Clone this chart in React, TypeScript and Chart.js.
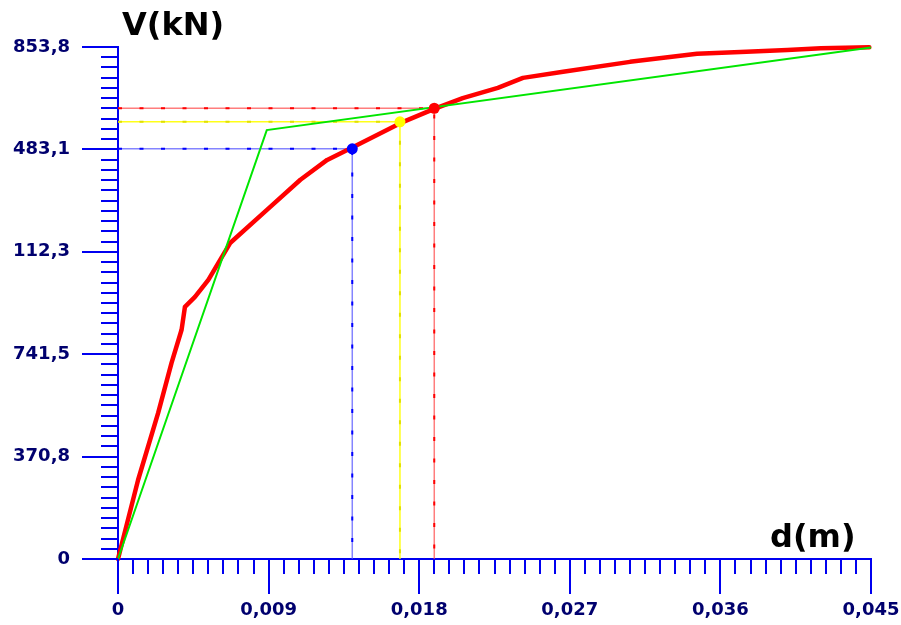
import React, { useEffect, useRef } from "react";
import { Chart, registerables } from "chart.js";

Chart.register(...registerables);

// ---- data ----
const capacityX = [0, 0.0012, 0.0024, 0.0032, 0.0038, 0.004, 0.0046, 0.0054, 0.0067, 0.0089, 0.0109, 0.0125, 0.014, 0.0169, 0.0189, 0.0206, 0.0227, 0.0242, 0.0266, 0.0306, 0.0346, 0.0372, 0.04, 0.042, 0.0449];
const capacityY = [0, 286, 529, 710, 830, 913, 949, 1011, 1144, 1264, 1373, 1445, 1490, 1579, 1630, 1669, 1706, 1742, 1764, 1800, 1829, 1836, 1843, 1849, 1853];

const bilinearX = [0, 0.00889, 0.045];
const bilinearY = [0, 1553, 1852];

const perfNames = ["blue", "yellow", "red"];
const perfX = [0.014, 0.01685, 0.0189];
const perfY = [1485, 1583, 1632];

const xMajorValues = [0, 0.009, 0.018, 0.027, 0.036, 0.045];
const xMajorLabels = ["0", "0,009", "0,018", "0,027", "0,036", "0,045"];
const yMajorValues = [0, 370.76, 741.52, 1112.28, 1483.04, 1853.8];
const yMajorLabels = ["0", "370,8", "741,5", "112,3", "483,1", "853,8"];
const minorPerMajor = 10;

const yTitle = "V(kN)";
const xTitle = "d(m)";

// ---- styles ----
const AXIS_BLUE = "#0000f0";
const LABEL_NAVY = "#00006e";
const perfLight = ["rgba(80,80,255,0.7)", "rgba(255,255,0,0.9)", "rgba(255,70,70,0.7)"];
const perfDark = ["#0000ff", "#e0e000", "#ff0000"];
const perfPoint = ["#0000ff", "#ffff00", "#ff0000"];

function buildTicks(majors: number[]) {
  const t: { value: number }[] = [];
  for (let i = 0; i < majors.length - 1; i++) {
    for (let j = 0; j < minorPerMajor; j++) {
      t.push({ value: majors[i] + ((majors[i + 1] - majors[i]) * j) / minorPerMajor });
    }
  }
  t.push({ value: majors[majors.length - 1] });
  return t;
}

const decorPlugin = {
  id: "decor",
  afterDraw(chart: any) {
    const ctx = chart.ctx;
    const xs = chart.scales.x;
    const ys = chart.scales.y;
    const area = chart.chartArea;
    ctx.save();
    ctx.strokeStyle = AXIS_BLUE;
    ctx.lineWidth = 2;
    xMajorValues.forEach((v) => {
      const px = Math.round(xs.getPixelForValue(v));
      ctx.beginPath();
      ctx.moveTo(px, area.bottom);
      ctx.lineTo(px, area.bottom + 35);
      ctx.stroke();
    });
    yMajorValues.forEach((v) => {
      const py = Math.round(ys.getPixelForValue(v));
      ctx.beginPath();
      ctx.moveTo(area.left, py);
      ctx.lineTo(area.left - 36, py);
      ctx.stroke();
    });
    ctx.fillStyle = "#000";
    ctx.font = 'bold 32px "DejaVu Sans"';
    ctx.textAlign = "left";
    ctx.textBaseline = "alphabetic";
    ctx.fillText(yTitle, 122, 35);
    ctx.fillText(xTitle, 770, 547);
    ctx.restore();
  },
};

export default function App() {
  const ref = useRef<HTMLCanvasElement | null>(null);

  useEffect(() => {
    if (!ref.current) return;
    const pts = (xs: number[], ys: number[]) => xs.map((x, i) => ({ x, y: ys[i] }));

    const datasets: any[] = [];
    perfNames.forEach((n, i) => {
      datasets.push({
        label: n + " point",
        data: [{ x: perfX[i], y: perfY[i] }],
        showLine: false,
        pointRadius: 5.5,
        pointBackgroundColor: perfPoint[i],
        pointBorderColor: perfPoint[i],
        pointBorderWidth: 0,
        clip: false,
      });
    });
    datasets.push({
      label: "bilinear",
      data: pts(bilinearX, bilinearY),
      borderColor: "#00e600",
      borderWidth: 2,
      pointRadius: 0,
      showLine: true,
      tension: 0,
      clip: false,
    });
    datasets.push({
      label: "capacity",
      data: pts(capacityX, capacityY),
      borderColor: "#ff0000",
      borderWidth: 4.5,
      pointRadius: 0,
      showLine: true,
      tension: 0,
      borderJoinStyle: "round",
      borderCapStyle: "round",
      clip: false,
    });
    perfNames.forEach((n, i) => {
      const guide = [
        { x: 0, y: perfY[i] },
        { x: perfX[i], y: perfY[i] },
        { x: perfX[i], y: 0 },
      ];
      datasets.push({
        label: n + " guide dash",
        data: guide,
        borderColor: perfDark[i],
        borderWidth: 2,
        borderDash: [4, 17.5],
        pointRadius: 0,
        showLine: true,
        tension: 0,
      });
      datasets.push({
        label: n + " guide",
        data: guide,
        borderColor: perfLight[i],
        borderWidth: 1.5,
        pointRadius: 0,
        showLine: true,
        tension: 0,
      });
    });

    const tickFont = { family: "DejaVu Sans", size: 18, weight: "bold" as const };

    const chart = new Chart(ref.current, {
      type: "scatter",
      data: { datasets },
      plugins: [decorPlugin],
      options: {
        animation: false,
        responsive: false,
        devicePixelRatio: 1,
        layout: { padding: { top: 47, right: 30, left: 0, bottom: 0 } },
        plugins: { legend: { display: false }, tooltip: { enabled: false } },
        events: [],
        scales: {
          x: {
            type: "linear",
            min: 0,
            max: 0.045,
            afterBuildTicks: (s: any) => {
              s.ticks = buildTicks(xMajorValues);
            },
            afterFit: (s: any) => {
              s.height = 66;
              s.paddingLeft = 0;
              s.paddingRight = 0;
            },
            border: { display: true, color: AXIS_BLUE, width: 2 },
            grid: {
              drawOnChartArea: false,
              drawTicks: true,
              tickLength: 15,
              color: AXIS_BLUE,
              lineWidth: 2,
            },
            ticks: {
              autoSkip: false,
              maxRotation: 0,
              minRotation: 0,
              padding: 26,
              color: LABEL_NAVY,
              font: tickFont,
              callback: (_v: any, i: number) => (i % minorPerMajor === 0 ? xMajorLabels[i / minorPerMajor] : ""),
            },
          },
          y: {
            type: "linear",
            min: 0,
            max: 1853.8,
            afterBuildTicks: (s: any) => {
              s.ticks = buildTicks(yMajorValues);
            },
            afterFit: (s: any) => {
              s.width = 118;
              s.paddingTop = 0;
              s.paddingBottom = 0;
            },
            border: { display: true, color: AXIS_BLUE, width: 2 },
            grid: {
              drawOnChartArea: false,
              drawTicks: true,
              tickLength: 17,
              color: AXIS_BLUE,
              lineWidth: 2,
            },
            ticks: {
              autoSkip: false,
              padding: 31,
              color: LABEL_NAVY,
              font: tickFont,
              callback: (_v: any, i: number) => (i % minorPerMajor === 0 ? yMajorLabels[i / minorPerMajor] : ""),
            },
          },
        },
      },
    });
    return () => chart.destroy();
  }, []);

  return (
    <div style={{ position: "fixed", left: 0, top: 0, width: 901, height: 625, background: "#fff" }}>
      <canvas ref={ref} width={901} height={625} style={{ display: "block", width: 901, height: 625 }} />
    </div>
  );
}
